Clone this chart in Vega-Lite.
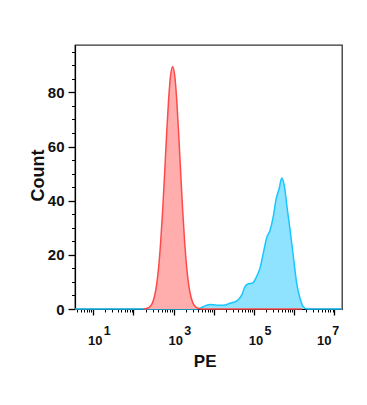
{
  "$schema": "https://vega.github.io/schema/vega-lite/v6.json",
  "width": 267,
  "height": 264,
  "autosize": {"type": "none"},
  "padding": {"left": 75, "top": 45, "right": 25, "bottom": 96},
  "background": "white",
  "config": {"view": {"stroke": "#333", "strokeWidth": 1.3}, "font": "Liberation Sans"},
  "datasets": {
    "sample": [
      {"pe": 3.5, "count": 0}, {"pe": 3750, "count": 0}, {"pe": 6650, "count": 1.4}, {"pe": 8040, "count": 1.7},
      {"pe": 11800, "count": 1.4}, {"pe": 17200, "count": 1.4}, {"pe": 25300, "count": 2.1}, {"pe": 37200, "count": 3.0},
      {"pe": 49400, "count": 5.1}, {"pe": 59700, "count": 8.3}, {"pe": 72300, "count": 9.3}, {"pe": 92900, "count": 9.6},
      {"pe": 117000, "count": 12.1}, {"pe": 141000, "count": 15.1}, {"pe": 171000, "count": 20.7}, {"pe": 207000, "count": 26.3},
      {"pe": 251000, "count": 29.1}, {"pe": 303000, "count": 34.3}, {"pe": 353000, "count": 40.4}, {"pe": 427000, "count": 44.8},
      {"pe": 490000, "count": 48.4}, {"pe": 569000, "count": 45.5}, {"pe": 675000, "count": 36.8}, {"pe": 789000, "count": 29.3},
      {"pe": 953000, "count": 19.4}, {"pe": 1156000, "count": 9.5}, {"pe": 1400000, "count": 3.9}, {"pe": 1690000, "count": 0.8},
      {"pe": 2050000, "count": 0}, {"pe": 15500000, "count": 0}
    ],
    "control": [
      {"pe": 178, "count": 0}, {"pe": 211, "count": 0.2}, {"pe": 237, "count": 0.5}, {"pe": 266, "count": 1.1},
      {"pe": 299, "count": 2.4}, {"pe": 335, "count": 4.8}, {"pe": 376, "count": 8.9}, {"pe": 422, "count": 15.3},
      {"pe": 473, "count": 24.4}, {"pe": 531, "count": 36.3}, {"pe": 596, "count": 50.2}, {"pe": 668, "count": 64.6},
      {"pe": 750, "count": 77.5}, {"pe": 841, "count": 86.4}, {"pe": 944, "count": 89.5}, {"pe": 1059, "count": 86.4},
      {"pe": 1189, "count": 77.5}, {"pe": 1334, "count": 64.6}, {"pe": 1496, "count": 50.2}, {"pe": 1679, "count": 36.3},
      {"pe": 1884, "count": 24.4}, {"pe": 2113, "count": 15.3}, {"pe": 2371, "count": 8.9}, {"pe": 2661, "count": 4.8},
      {"pe": 2985, "count": 2.4}, {"pe": 3350, "count": 1.1}, {"pe": 3758, "count": 0.5}, {"pe": 4217, "count": 0.2},
      {"pe": 4732, "count": 0}, {"pe": 1580000, "count": 0}
    ]
  },
  "layer": [
    {
      "data": {"name": "sample"},
      "mark": {"type": "area", "interpolate": "monotone", "color": "#8FE3FF", "fillOpacity": 1,
               "line": {"color": "#1AC6FF", "strokeWidth": 1.5, "interpolate": "monotone"}},
      "encoding": {
        "x": {"field": "pe", "type": "quantitative",
              "scale": {"type": "log", "domain": [3.5, 15500000], "nice": false},
              "axis": {
                "orient": "bottom",
                "title": "PE", "titleFontSize": 17, "titleFontWeight": "bold", "titleColor": "#111",
                "titleX": 129.7, "titleY": 57.8, "titleBaseline": "alphabetic",
                "values": [10, 100, 1000, 10000, 100000, 1000000, 10000000],
                "grid": false, "domain": true, "ticks": true,
                "domainColor": "#000", "domainWidth": 1.2, "tickColor": "#000", "tickWidth": 1.3, "tickSize": 6,
                "labelExpr": "indexof([10,1000,100000,10000000], datum.value) >= 0 ? '10' : ''",
                "labelFontSize": 13, "labelFontWeight": "bold", "labelColor": "#111",
                "labelPadding": 19, "labelOverlap": false, "labelFlush": false, "labelBound": false,
                "labelOffset": {"condition": {"test": "datum.value == 10000000", "value": -10.6}, "value": 1.5}
              }},
        "y": {"field": "count", "type": "quantitative",
              "scale": {"domain": [0, 97.5], "nice": false, "zero": false},
              "axis": {
                "orient": "left",
                "title": "Count", "titleFontSize": 18, "titleFontWeight": "bold", "titleColor": "#111",
                "titleX": -31.7, "titleY": 130, "titleBaseline": "alphabetic",
                "values": [0, 20, 40, 60, 80],
                "tickSize": 7,
                "labelFontSize": 15, "labelFontWeight": "bold", "labelColor": "#111", "labelPadding": 4,
                "labelOverlap": false, "grid": false, "domain": true, "ticks": true,
                "domainColor": "#000", "domainWidth": 1.2, "tickColor": "#000", "tickWidth": 1.3
              }}
      }
    },
    {
      "data": {"name": "control"},
      "mark": {"type": "area", "interpolate": "monotone", "color": "#FFADAD", "fillOpacity": 1,
               "line": {"color": "#FF4A4A", "strokeWidth": 1.5, "interpolate": "monotone"}},
      "encoding": {
        "x": {"field": "pe", "type": "quantitative",
              "scale": {"type": "log", "domain": [3.5, 15500000], "nice": false},
              "axis": {
                "orient": "bottom",
                "title": null,
                "values": [4,5,6,7,8,9,10,20,30,40,50,60,70,80,90,100,200,300,400,500,600,700,800,900,1000,2000,3000,4000,5000,6000,7000,8000,9000,10000,20000,30000,40000,50000,60000,70000,80000,90000,100000,200000,300000,400000,500000,600000,700000,800000,900000,1000000,2000000,3000000,4000000,5000000,6000000,7000000,8000000,9000000,10000000],
                "ticks": true, "tickSize": 3, "tickColor": "#000", "tickWidth": 1,
                "domain": false, "grid": false,
                "labelExpr": "indexof([10,1000,100000,10000000], datum.value) >= 0 ? '' + round(log(datum.value) / LN10) : ''",
                "labelAlign": "left", "labelFontSize": 12.5, "labelFontWeight": "bold", "labelColor": "#111",
                "labelPadding": 12, "labelOverlap": false, "labelFlush": false, "labelBound": false,
                "labelOffset": {"condition": {"test": "datum.value == 10000000", "value": -2.6}, "value": 10}
              }},
        "y": {"field": "count", "type": "quantitative",
              "axis": {
                "orient": "left", "title": null,
                "values": [0,5,10,15,20,25,30,35,40,45,50,55,60,65,70,75,80,85,90,95],
                "tickSize": 3.5, "tickColor": "#000", "tickWidth": 1, "labels": false,
                "domain": false, "grid": false, "ticks": true
              }}
      }
    }
  ],
  "resolve": {"axis": {"x": "independent", "y": "independent"}}
}
